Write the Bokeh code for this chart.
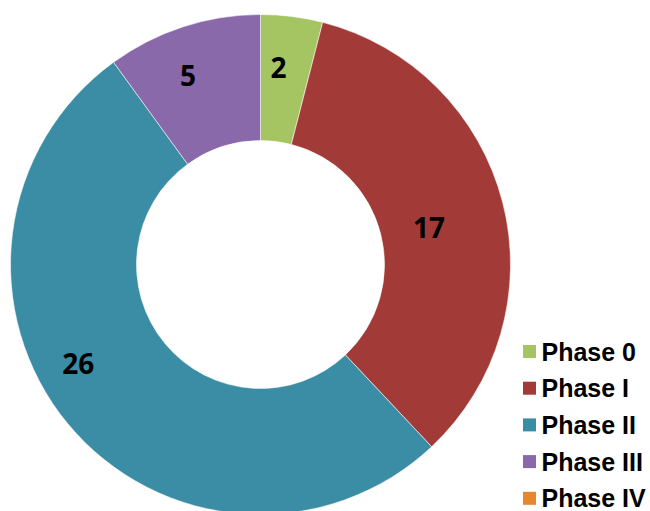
import math
from bokeh.plotting import figure
from bokeh.models import ColumnDataSource, Range1d
from bokeh.core.properties import value
from bokeh.embed import file_html
from bokeh.resources import INLINE

# ---- data ----
phases = ["Phase 0", "Phase I", "Phase II", "Phase III", "Phase IV"]
counts = [2, 17, 26, 5, 0]
colors = ["#A5C563", "#A23B37", "#3A8DA5", "#8A69AA", "#E8862E"]

# label placement tweaks (angle offset in degrees, radial position as fraction of outer radius)
label_angle_shift = [-2.0, 2.0, 11.0, -3.0, 0.0]
label_radius_frac = [0.79, 0.69, 0.83, 0.81, 0.8]

W, H = 650, 511
cx, cy = 260, 247
r_out, r_in = 250, 124

p = figure(width=W, height=H, output_backend="svg", toolbar_location=None,
           x_axis_location=None, y_axis_location=None, min_border=0,
           x_range=Range1d(0, W), y_range=Range1d(0, H))
p.outline_line_color = None
p.grid.visible = False
p.background_fill_color = "white"
p.border_fill_color = "white"

total = float(sum(counts))
starts, ends, cols, lx, ly, ltxt = [], [], [], [], [], []
cum = 0.0
for i, c in enumerate(counts):
    a0 = math.pi / 2 - cum / total * 2 * math.pi
    cum += c
    a1 = math.pi / 2 - cum / total * 2 * math.pi
    if c > 0:
        starts.append(a0)
        ends.append(a1)
        cols.append(colors[i])
        mid = (a0 + a1) / 2 - math.radians(label_angle_shift[i])
        rr = r_out * label_radius_frac[i]
        lx.append(cx + rr * math.cos(mid))
        ly.append(cy + rr * math.sin(mid))
        ltxt.append(str(c))

src = ColumnDataSource(dict(x=[cx] * len(starts), y=[cy] * len(starts),
                            s=starts, e=ends, c=cols))
p.annular_wedge(x="x", y="y", inner_radius=r_in, outer_radius=r_out,
                start_angle="s", end_angle="e", direction="clock",
                fill_color="c", line_color="white", line_alpha=0.55,
                line_width=1, source=src)

p.text(x=lx, y=ly, text=ltxt, text_font=value("Open Sans"), text_font_style="bold",
       text_font_size="28px", text_align="center", text_baseline="middle",
       text_color="black")

# legend
leg_top = 160
leg_step = 36.7
ys = [leg_top - i * leg_step for i in range(len(phases))]
p.scatter(x=[529] * len(phases), y=ys, marker="square", size=13,
          fill_color=colors, line_color=None)
p.text(x=[541] * len(phases), y=ys, text=phases, text_font=value("Liberation Sans"),
       text_font_style="bold", text_font_size="25px", text_align="left",
       text_baseline="middle", text_color="black")

open("out.html", "w").write(file_html(p, INLINE))
